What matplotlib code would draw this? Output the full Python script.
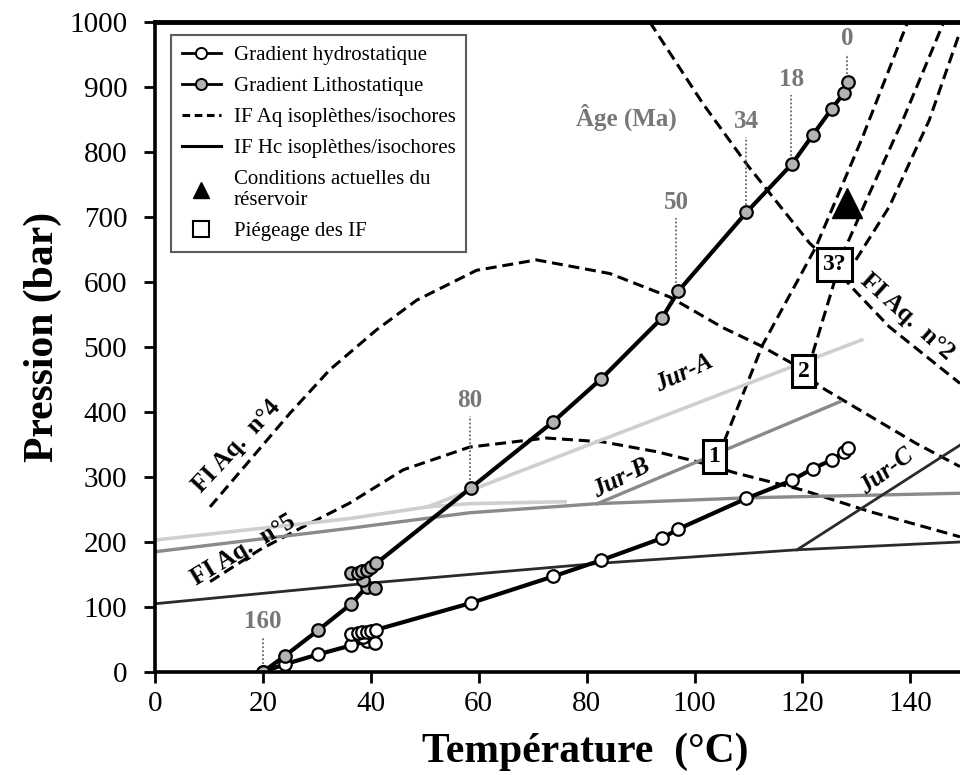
import matplotlib
matplotlib.use("Agg")
import matplotlib.pyplot as plt
from matplotlib.lines import Line2D

plt.rcParams['font.family'] = ['Liberation Serif', 'DejaVu Serif']

# --- gradients (T in degC, P in bar)
temp_grad = [20, 24.1, 30.2, 36.4, 39.2, 40.7, 38.6, 36.4, 37.6, 38.4, 39.2, 40.0, 41.0,
             58.5, 73.8, 82.7, 94.0, 97.0, 109.6, 118.1, 121.9, 125.4, 127.7, 128.5]
p_litho = [0, 25, 64, 105, 131, 129, 141, 152, 153, 155, 157, 161, 167,
           283, 385, 451, 545, 586, 707, 782, 826, 866, 891, 908]
p_hydro = [0, 12, 27, 41, 47, 45, 54, 58, 60, 61, 62, 63, 65,
           106, 147, 172, 206, 220, 267, 295, 313, 326, 338, 344]

# ages (Ma) marked on the lithostatic gradient
ages = ["160", "80", "50", "34", "18", "0"]
age_temp = [20, 58.3, 96.6, 109.6, 117.9, 128.3]
age_label_p = [77, 418, 723, 847, 911, 975]
age_point_p = [0, 283, 586, 707, 782, 908]

# --- FI aqueous isopleths / isochores (dashed)
aq4_t = [10.2, 17.6, 25.0, 32.4, 41.0, 48.5, 59.6, 70.7, 84.3, 95.4, 105.2, 112.0, 120.0, 123.1, 141.0, 149.2]
aq4_p = [254, 326, 398, 465, 526, 572, 618, 634, 613, 577, 530, 503, 466, 440, 352, 316]
aq5_t = [10.2, 19.4, 26.9, 36.1, 46.0, 58.3, 72.5, 83.0, 92.9, 100.3, 107.7, 120.0, 132.4, 149.2]
aq5_p = [139, 188, 221, 260, 311, 346, 360, 354, 339, 324, 306, 280, 247, 208]
aq2_t = [91.7, 101.5, 109.6, 113.9, 121.3, 125.9, 129.0, 136.1, 149.2]
aq2_p = [1000, 875, 782, 737, 660, 624, 593, 531, 444]
iso1_t = [105.5, 112.6, 122.5, 131.0, 139.5]
iso1_p = [355, 503, 654, 820, 1000]
iso2_t = [121.9, 127.5, 132.4, 138.6, 146.2]
iso2_p = [490, 644, 736, 849, 1000]
iso3_t = [129.9, 136.1, 143.5, 149.2]
iso3_p = [634, 716, 849, 985]

# --- FI hydrocarbon isopleths / isochores (solid, grey shades)
jurA_bub_t = [0, 36, 50.5, 58.3, 76]
jurA_bub_p = [203, 236, 254, 259, 262]
jurA_iso_t = [50.5, 131]
jurA_iso_p = [254, 511]
jurB_bub_t = [0, 36, 58.3, 82, 110, 149.2]
jurB_bub_p = [185, 221, 245, 259, 268, 275]
jurB_iso_t = [82, 127]
jurB_iso_p = [259, 416]
jurC_bub_t = [0, 40, 82, 119, 149.2]
jurC_bub_p = [105, 137, 167, 188, 200]
jurC_iso_t = [119, 149.2]
jurC_iso_p = [188, 349]

# trapping boxes and present-day reservoir
box_labels = ["1", "2", "3?"]
box_t = [103.7, 120.2, 125.9]
box_p = [331, 463, 627]
reservoir_t = [128.3]
reservoir_p = [722]

fig = plt.figure(figsize=(9.6, 7.75), dpi=100)
ax = fig.add_axes([155 / 960, 103 / 775, 805 / 960, 650 / 775])

dash = dict(color='black', lw=2.2, dashes=(3.6, 1.9))
ax.plot(aq4_t, aq4_p, **dash)
ax.plot(aq5_t, aq5_p, **dash)
ax.plot(aq2_t, aq2_p, **dash)
ax.plot(iso1_t, iso1_p, **dash)
ax.plot(iso2_t, iso2_p, **dash)
ax.plot(iso3_t, iso3_p, **dash)

ax.plot(jurA_bub_t, jurA_bub_p, color='#cfcfcf', lw=2.6)
ax.plot(jurA_iso_t, jurA_iso_p, color='#cfcfcf', lw=2.6)
ax.plot(jurB_bub_t, jurB_bub_p, color='#8a8a8a', lw=2.4)
ax.plot(jurB_iso_t, jurB_iso_p, color='#8a8a8a', lw=2.4)
ax.plot(jurC_bub_t, jurC_bub_p, color='#2b2b2b', lw=2.0)
ax.plot(jurC_iso_t, jurC_iso_p, color='#2b2b2b', lw=2.0)

for t, pl, pt, a in zip(age_temp, age_label_p, age_point_p, ages):
    ax.plot([t, t], [pt + 12, pl - 24], color='#666666', lw=1.3, ls=(0, (1, 1.2)))
    ax.text(t, pl, a, color='#777777', fontsize=18, fontweight='bold', ha='center', va='center')
ax.text(87.3, 854, "Âge (Ma)", color='#777777', fontsize=18, fontweight='bold', ha='center', va='center')

ax.plot(temp_grad, p_hydro, color='black', lw=3, marker='o', ms=9, mfc='white', mec='black', mew=1.6)
ax.plot(temp_grad, p_litho, color='black', lw=3, marker='o', ms=9, mfc='#b3b3b3', mec='black', mew=1.6)

ax.plot(reservoir_t, reservoir_p, ls='none', marker='^', ms=22, color='black')

for lab, t, p in zip(box_labels, box_t, box_p):
    ax.text(t, p, lab, fontsize=17, fontweight='bold', ha='center', va='center',
            bbox=dict(boxstyle='square,pad=0.25', fc='white', ec='black', lw=2.2))

bold = dict(fontsize=18, fontweight='bold', ha='center', va='center', rotation_mode='anchor')
ax.text(15.1, 347, "FI Aq.  n°4", rotation=47, **bold)
ax.text(16.3, 187, "FI Aq.  n°5", rotation=31, **bold)
ax.text(139.5, 547, "FI Aq.  n°2", rotation=-42, **bold)
ax.text(98.1, 460, "Jur-A", rotation=25, style='italic', **bold)
ax.text(86.4, 298, "Jur-B", rotation=27, style='italic', **bold)
ax.text(135.5, 308, "Jur-C", rotation=37, style='italic', **bold)

ax.set_xlim(0, 149.2)
ax.set_ylim(0, 1000)
ax.set_xticks(range(0, 141, 20))
ax.set_yticks(range(0, 1001, 100))
ax.tick_params(direction='out', length=8, width=2, labelsize=21)
ax.tick_params(axis='y', pad=12)
ax.tick_params(axis='x', pad=6)
ax.spines['right'].set_visible(False)
for s in ['left', 'bottom']:
    ax.spines[s].set_linewidth(2.6)
ax.spines['top'].set_linewidth(3.5)

ax.set_xlabel("Température  (°C)", fontsize=30, fontweight='bold')
ax.set_ylabel("Pression (bar)", fontsize=30, fontweight='bold')
ax.xaxis.set_label_coords(0.534, -0.093)
ax.yaxis.set_label_coords(-0.115, 0.515)

handles = [
    Line2D([], [], color='black', lw=2, marker='o', ms=8, mfc='white', mec='black', mew=1.4),
    Line2D([], [], color='black', lw=2, marker='o', ms=8, mfc='#b3b3b3', mec='black', mew=1.4),
    Line2D([], [], color='black', lw=2.2, dashes=(2.5, 1.5)),
    Line2D([], [], color='black', lw=2.2),
    Line2D([], [], ls='none', marker='^', ms=11, color='black'),
    Line2D([], [], ls='none', marker='s', ms=11, mfc='white', mec='black', mew=1.5),
]
labels = ["Gradient hydrostatique", "Gradient Lithostatique", "IF Aq isoplèthes/isochores",
          "IF Hc isoplèthes/isochores", "Conditions actuelles du\nréservoir", "Piégeage des IF"]
leg = ax.legend(handles, labels, loc='upper left', bbox_to_anchor=(0.02, 0.98), fontsize=15,
                frameon=True, fancybox=False, edgecolor='#333333', handlelength=1.9,
                labelspacing=0.55, borderpad=0.5, handletextpad=0.6, borderaxespad=0)
leg.get_frame().set_linewidth(1.5)

plt.savefig("out.png", dpi=100)
